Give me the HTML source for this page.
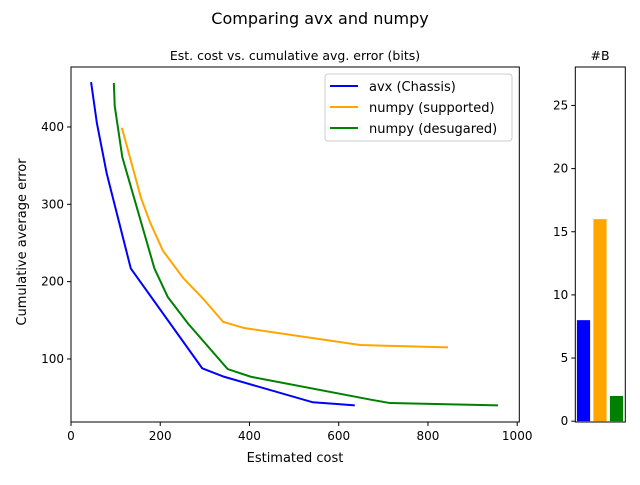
<!DOCTYPE html>
<html><head><meta charset="utf-8"><style>
body{margin:0;background:#fff;}
svg text{font-family:"DejaVu Sans","Liberation Sans",sans-serif;fill:#000;}
</style></head><body>
<svg id="chart" width="640" height="480" xmlns="http://www.w3.org/2000/svg">
<text x="320" y="24" font-size="16" text-anchor="middle">Comparing avx and numpy</text>
<text x="295" y="60" font-size="12.5" text-anchor="middle">Est. cost vs. cumulative avg. error (bits)</text>
<text x="600" y="60" font-size="12.5" text-anchor="middle">#B</text>
<text x="295" y="462" font-size="13" text-anchor="middle">Estimated cost</text>
<text x="26" y="242" font-size="13" text-anchor="middle" transform="rotate(-90 26 242)">Cumulative average error</text>
<g id="main"></g><g id="side"></g>
<g>
<rect x="325" y="74" width="187" height="67" rx="3" fill="#fff" stroke="#ccc"/>
<line x1="330" y1="86" x2="358" y2="86" stroke="blue" stroke-width="2"/><text x="369" y="91" font-size="13">avx (Chassis)</text>
<line x1="330" y1="107" x2="358" y2="107" stroke="orange" stroke-width="2"/><text x="369" y="112" font-size="13">numpy (supported)</text>
<line x1="330" y1="128" x2="358" y2="128" stroke="green" stroke-width="2"/><text x="369" y="133" font-size="13">numpy (desugared)</text>
</g>
</svg>
<script>
const avxX=[45,58,80,134,294,343,542,592,636];
const avxY=[458,405,340,217,88,77,44,42,40];
const supX=[114,157,177,206,251,296,341,388,648,845];
const supY=[399,308,277,240,205,178,148,140,118,115];
const desX=[96,98,115,187,217,262,351,403,675,715,957];
const desY=[457,427,361,217,180,146,87,77,47,43,40];
const xTicks=[0,200,400,600,800,1000];
const yTicks=[100,200,300,400];
const barCats=["avx","numpy-supported","numpy-desugared"];
const barVals=[8,16,2];
const barColors=["blue","orange","green"];
const sideTicks=[0,5,10,15,20,25];

const NS="http://www.w3.org/2000/svg";
function mk(t,a,p){const e=document.createElementNS(NS,t);for(const k in a)e.setAttribute(k,a[k]);p.appendChild(e);return e;}
const L=71,R=519.3,T=67,B=422;
const sx=v=>L+v*0.4462, sy=v=>436.3-v*0.7733;
const main=document.getElementById('main');
function series(xs,ys,c,n){
  const p=mk('polyline',{points:xs.map((x,i)=>sx(x)+','+sy(ys[i])).join(' '),fill:'none',stroke:c,'stroke-width':2},main);
  
  
}
series(avxX,avxY,'blue','line-avx');
series(supX,supY,'orange','line-numpy-supported');
series(desX,desY,'green','line-numpy-desugared');
const fr=mk('rect',{x:L,y:T,width:R-L,height:B-T,fill:'none',stroke:'#000','stroke-width':1},main);


xTicks.forEach(v=>{const x=sx(v);mk('line',{x1:x,y1:B,x2:x,y2:B+4,stroke:'#000'},main);
  const t=mk('text',{x:x,y:B+18,'font-size':12,'text-anchor':'middle'},main);t.textContent=v;
  
  });
yTicks.forEach(v=>{const y=sy(v);mk('line',{x1:L-4,y1:y,x2:L,y2:y,stroke:'#000'},main);
  const t=mk('text',{x:L-7,y:y+4,'font-size':12,'text-anchor':'end'},main);t.textContent=v;
  
  });

const side=document.getElementById('side');
const SL=575.3,SR=625.3;
const bx=i=>583.5+i*16.5, by=v=>421.2-v*12.63;
barVals.forEach((v,i)=>{const r=mk('rect',{x:bx(i)-6.6,y:by(v),width:13.2,height:421.2-by(v),fill:barColors[i]},side);
  
  });
const sf=mk('rect',{x:SL,y:T,width:SR-SL,height:B-T,fill:'none',stroke:'#000'},side);


sideTicks.forEach(v=>{const y=by(v);mk('line',{x1:SL-4,y1:y,x2:SL,y2:y,stroke:'#000'},side);
  const t=mk('text',{x:SL-7,y:y+4,'font-size':12,'text-anchor':'end'},side);t.textContent=v;
  
  });
</script>
</body></html>
